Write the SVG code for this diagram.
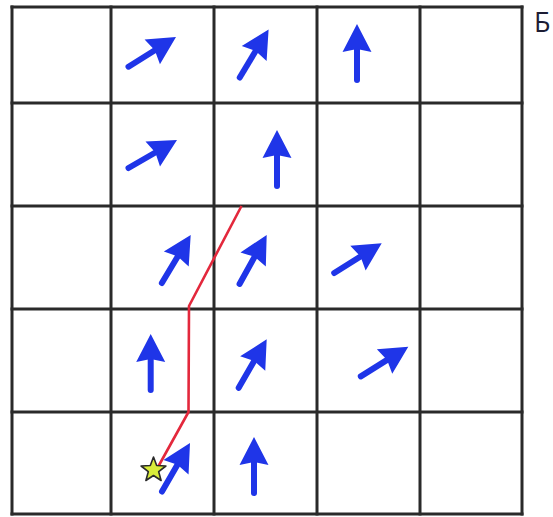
<svg xmlns="http://www.w3.org/2000/svg" xmlns:xlink="http://www.w3.org/1999/xlink" width="553" height="517" viewBox="0 0 553 517">
  <style>
    .grid line { stroke: #2a2a2a; stroke-width: 3; stroke-linecap: square; }
    .shaft { stroke: #1f35e8; stroke-width: 6; stroke-linecap: round; fill: none; }
    .head { fill: #1f35e8; }
    .route { stroke: #e3283c; stroke-width: 2.6; fill: none; stroke-linejoin: round; }
    .label { font-family: "Open Sans", "Liberation Sans", sans-serif; font-size: 27px; fill: #1c1c34; }
  </style>
  <defs>
    <g id="arr">
      <path class="shaft" d="M-56,0 L-24,0"/>
      <path class="head" d="M0,0 L-28,-14.5 L-25,0 L-28,14.5 Z"/>
    </g>
  </defs>
  <rect width="553" height="517" fill="#ffffff"/>
  <g id="grid" class="grid">
    <line x1="12" y1="7" x2="12" y2="514"/>
    <line x1="111" y1="7" x2="111" y2="514"/>
    <line x1="214" y1="7" x2="214" y2="514"/>
    <line x1="317" y1="7" x2="317" y2="514"/>
    <line x1="420" y1="7" x2="420" y2="514"/>
    <line x1="522" y1="7" x2="522" y2="514"/>
    <line x1="12" y1="7" x2="522" y2="7"/>
    <line x1="12" y1="103" x2="522" y2="103"/>
    <line x1="12" y1="206" x2="522" y2="206"/>
    <line x1="12" y1="309" x2="522" y2="309"/>
    <line x1="12" y1="412" x2="522" y2="412"/>
    <line x1="12" y1="514" x2="522" y2="514"/>
  </g>
  <g id="arrows">
    <use id="a-r0c1" xlink:href="#arr" transform="translate(176,37) rotate(-32)"/>
    <use id="a-r0c2" xlink:href="#arr" transform="translate(268.6,29.5) rotate(-59)"/>
    <use id="a-r0c3" xlink:href="#arr" transform="translate(357,24) rotate(-90)"/>
    <use id="a-r1c1" xlink:href="#arr" transform="translate(177,140) rotate(-30)"/>
    <use id="a-r1c2" xlink:href="#arr" transform="translate(277,130) rotate(-90)"/>
    <use id="a-r2c1" xlink:href="#arr" transform="translate(190.7,235) rotate(-59)"/>
    <use id="a-r2c2" xlink:href="#arr" transform="translate(266.7,235) rotate(-61)"/>
    <use id="a-r2c3" xlink:href="#arr" transform="translate(381.7,243.3) rotate(-32)"/>
    <use id="a-r3c1" xlink:href="#arr" transform="translate(150.7,334) rotate(-90)"/>
    <use id="a-r3c2" xlink:href="#arr" transform="translate(266.7,339.3) rotate(-60)"/>
    <use id="a-r3c3" xlink:href="#arr" transform="translate(408.3,346.7) rotate(-32)"/>
    <use id="a-r4c1" xlink:href="#arr" transform="translate(190,443) rotate(-60)"/>
    <use id="a-r4c2" xlink:href="#arr" transform="translate(254,437) rotate(-90)"/>
  </g>
  <g id="connectors">
    <polyline class="route" points="241.5,206 189,306 188.5,412 158,467"/>
  </g>
  <g id="start">
    <polygon points="153.5,457 156.7,465.5 165.9,466 158.7,471.7 161.1,480.5 153.5,475.5 145.9,480.5 148.3,471.7 141.1,466 150.3,465.5" fill="#d9ec3a" stroke="#2a2a2a" stroke-width="1.6" stroke-linejoin="round"/>
  </g>
  <g id="label">
    <text class="label" x="534" y="32">Б</text>
  </g>
</svg>
